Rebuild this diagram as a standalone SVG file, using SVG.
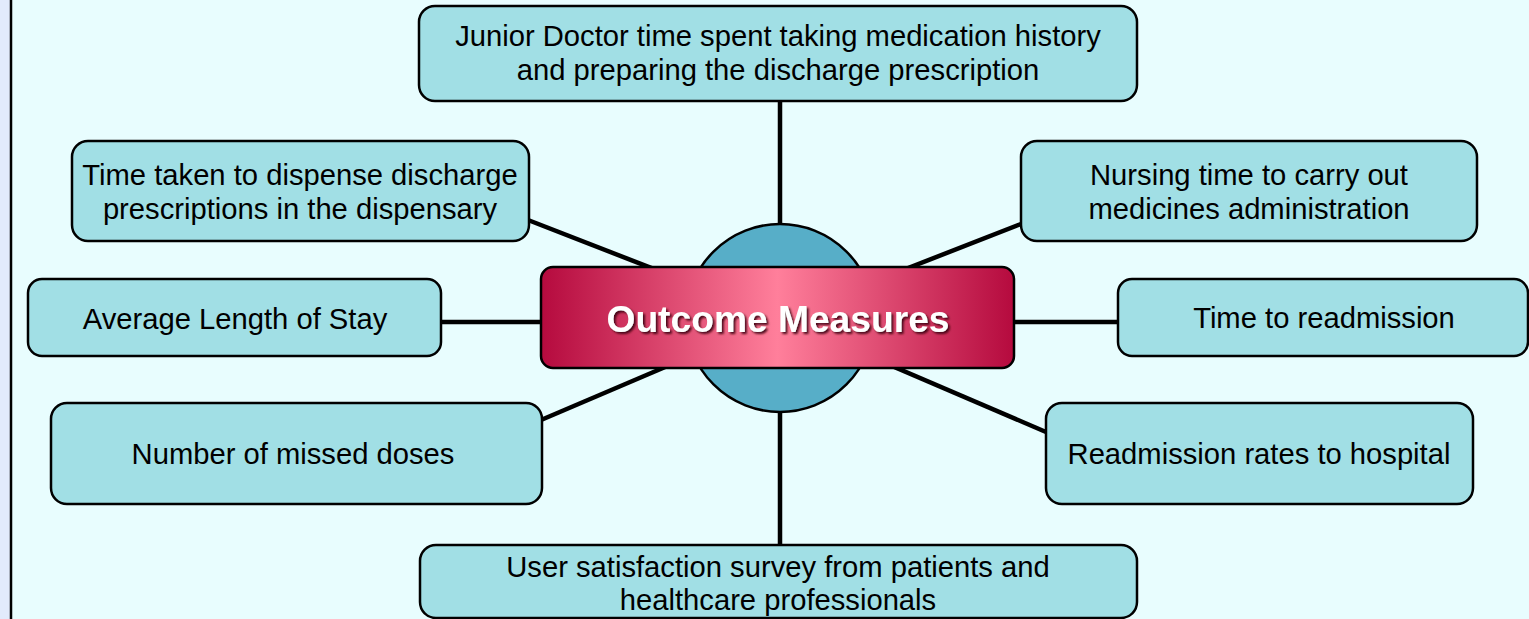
<svg xmlns="http://www.w3.org/2000/svg" width="1529" height="619" viewBox="0 0 1529 619">
<defs>
<linearGradient id="cg" x1="0" y1="0" x2="1" y2="0">
<stop offset="0" stop-color="#b50a3e"/>
<stop offset="0.5" stop-color="#ff7f9b"/>
<stop offset="1" stop-color="#b50a3e"/>
</linearGradient>
<filter id="ts" x="-10%" y="-30%" width="120%" height="160%">
<feDropShadow dx="2" dy="2" stdDeviation="0.8" flood-color="#3a0010" flood-opacity="0.9"/>
</filter>
</defs>
<style>
.box{fill:#a1dfe5;stroke:#000;stroke-width:2.5}
.t{font-family:"Liberation Sans",Arial,sans-serif;font-size:29.2px;fill:#000;text-anchor:middle}
.con{stroke:#000;stroke-width:4.5;fill:none}
</style>
<rect x="0" y="0" width="1529" height="619" fill="#e8fdfe"/>
<rect x="0" y="0" width="10" height="619" fill="#e2ebfc"/>
<line x1="11" y1="0" x2="11" y2="619" stroke="#000" stroke-width="2.5"/>
<g id="connectors">
<line class="con" x1="780" y1="101" x2="780" y2="318"/>
<line class="con" x1="780" y1="318" x2="780" y2="545"/>
<line class="con" x1="528" y1="220" x2="780" y2="318"/>
<line class="con" x1="1021" y1="224" x2="780" y2="318"/>
<line class="con" x1="441" y1="322" x2="780" y2="322"/>
<line class="con" x1="780" y1="322" x2="1118" y2="322"/>
<line class="con" x1="541" y1="420" x2="780" y2="318"/>
<line class="con" x1="1046" y1="432" x2="780" y2="318"/>
</g>
<g id="center">
<circle cx="780" cy="318" r="94" fill="#57aec8" stroke="#000" stroke-width="2.5"/>
<rect x="541" y="267" width="473" height="101" rx="12" fill="url(#cg)" stroke="#000" stroke-width="2.5"/>
<text x="778" y="332" font-family="'Liberation Sans',Arial,sans-serif" font-weight="bold" font-size="37.2" fill="#fff" text-anchor="middle" filter="url(#ts)">Outcome Measures</text>
</g>
<g id="n-top">
<rect class="box" x="419" y="6" width="718" height="95" rx="16"/>
<text class="t" x="778" y="46">Junior Doctor time spent taking medication history</text>
<text class="t" x="778" y="80">and preparing the discharge prescription</text>
</g>
<g id="n-tl">
<rect class="box" x="72" y="141" width="457" height="100" rx="16"/>
<text class="t" x="300" y="185">Time taken to dispense discharge</text>
<text class="t" x="300" y="219">prescriptions in the dispensary</text>
</g>
<g id="n-tr">
<rect class="box" x="1021" y="141" width="456" height="100" rx="16"/>
<text class="t" x="1249" y="185">Nursing time to carry out</text>
<text class="t" x="1249" y="219">medicines administration</text>
</g>
<g id="n-left">
<rect class="box" x="28" y="279" width="413" height="77" rx="14"/>
<text class="t" x="235" y="329">Average Length of Stay</text>
</g>
<g id="n-right">
<rect class="box" x="1118" y="279" width="410" height="77" rx="14"/>
<text class="t" x="1324" y="328">Time to readmission</text>
</g>
<g id="n-bl">
<rect class="box" x="51" y="403" width="491" height="101" rx="16"/>
<text class="t" x="293" y="464">Number of missed doses</text>
</g>
<g id="n-br">
<rect class="box" x="1046" y="403" width="427" height="101" rx="16"/>
<text class="t" x="1259" y="464">Readmission rates to hospital</text>
</g>
<g id="n-bottom">
<rect class="box" x="420" y="545" width="717" height="73" rx="16"/>
<text class="t" x="778" y="577">User satisfaction survey from patients and</text>
<text class="t" x="778" y="610">healthcare professionals</text>
</g>
</svg>
